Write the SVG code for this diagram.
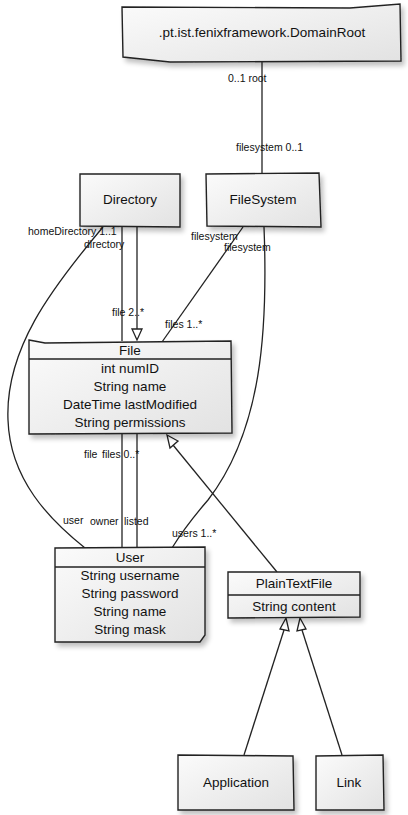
<svg xmlns="http://www.w3.org/2000/svg" width="408" height="815" viewBox="0 0 408 815">
<style>
.box{fill:url(#g);stroke:#222;stroke-width:1.4;filter:url(#sh)}
.ln{fill:none;stroke:#222;stroke-width:1.3}
.t{font-family:"Liberation Sans",Arial,sans-serif;font-size:13.5px;fill:#111;text-anchor:middle}
.l{font-family:"Liberation Sans",Arial,sans-serif;font-size:10.5px;fill:#111}
.tri{fill:#fff;stroke:#222;stroke-width:1.3}
</style>
<defs>
<linearGradient id="g" x1="0" y1="0" x2="1" y2="1">
<stop offset="0" stop-color="#fbfbfb"/>
<stop offset="1" stop-color="#e2e2e2"/>
</linearGradient>
<filter id="sh" x="-10%" y="-10%" width="130%" height="140%">
<feGaussianBlur in="SourceAlpha" stdDeviation="2.5"/>
<feOffset dx="3" dy="4" result="b"/>
<feComponentTransfer><feFuncA type="linear" slope="0.25"/></feComponentTransfer>
<feMerge><feMergeNode/><feMergeNode in="SourceGraphic"/></feMerge>
</filter>
</defs>

<g id="connectors">
<path class="ln" d="M262 60 L262 173"/>
<text class="l" x="228" y="82">0..1 root</text>
<text class="l" x="236" y="151">filesystem 0..1</text>
<path class="ln" d="M122 227 L122 341"/>
<path class="ln" d="M137 227 L137 329"/>
<path class="tri" d="M132 329 L142 329 L137 340 Z"/>
<text class="l" x="112" y="316">file 2..*</text>
<text class="l" x="28" y="235">homeDirectory 1..1</text>
<text class="l" x="84" y="248">directory</text>
<path class="ln" d="M243 227 L162 342"/>
<text class="l" x="191" y="240">filesystem</text>
<text class="l" x="224" y="251">filesystem</text>
<text class="l" x="165" y="328">files 1..*</text>
<path class="ln" d="M264 227 C268 330 262 430 208 500 C195 515 180 535 172 548"/>
<text class="l" x="172" y="537">users 1..*</text>
<path class="ln" d="M103 227 C50 290 5 350 8 420 C10 480 50 520 85 548"/>
<text class="l" x="63" y="524">user</text>
<path class="ln" d="M122 434 L122 548"/>
<path class="ln" d="M137 434 L137 548"/>
<text class="l" x="84" y="458">file</text>
<text class="l" x="102" y="458">files 0..*</text>
<text class="l" x="90" y="525">owner</text>
<text class="l" x="124" y="525">listed</text>
<path class="ln" d="M277 572 L173 445"/>
<path class="tri" d="M167 435 L178 441 L170 448 Z"/>
<path class="ln" d="M244 755 L284 630"/>
<path class="tri" d="M286 618 L289 631 L280 629 Z"/>
<path class="ln" d="M342 755 L302 630"/>
<path class="tri" d="M300 618 L306 629 L297 631 Z"/>
</g>

<g id="DomainRoot">
<path class="box" d="M122 7 L350 8 L400 4 L401 61 L170 62 L123 57 Z"/>
<text class="t" x="262" y="37">.pt.ist.fenixframework.DomainRoot</text>
</g>

<g id="Directory">
<path class="box" d="M80 174 L180 174 L180 227 L80 226 Z"/>
<text class="t" x="130" y="204">Directory</text>
</g>

<g id="FileSystem">
<path class="box" d="M206 174 L319 173 L321 227 L207 226 Z"/>
<text class="t" x="263" y="204">FileSystem</text>
</g>

<g id="File">
<path class="box" d="M29 340 L45 343 L231 341 L232 433 L29 434 Z"/>
<path class="ln" d="M29 359 L231 359"/>
<text class="t" x="130" y="355">File</text>
<text class="t" x="130" y="373">int numID</text>
<text class="t" x="130" y="391">String name</text>
<text class="t" x="130" y="409">DateTime lastModified</text>
<text class="t" x="130" y="427">String permissions</text>
</g>

<g id="User">
<path class="box" d="M55 548 L205 547 L205 635 L200 642 L55 642 Z"/>
<path class="ln" d="M55 567 L205 567"/>
<text class="t" x="130" y="562">User</text>
<text class="t" x="130" y="580">String username</text>
<text class="t" x="130" y="598">String password</text>
<text class="t" x="130" y="616">String name</text>
<text class="t" x="130" y="634">String mask</text>
</g>

<g id="PlainTextFile">
<path class="box" d="M228 572 L360 572 L360 617 L228 618 Z"/>
<path class="ln" d="M228 595 L360 595"/>
<text class="t" x="294" y="588">PlainTextFile</text>
<text class="t" x="294" y="611">String content</text>
</g>

<g id="Application">
<path class="box" d="M178 755 L293 756 L294 810 L178 810 Z"/>
<text class="t" x="236" y="787">Application</text>
</g>

<g id="Link">
<path class="box" d="M316 756 L383 755 L384 810 L316 810 Z"/>
<text class="t" x="349" y="787">Link</text>
</g>
</svg>
